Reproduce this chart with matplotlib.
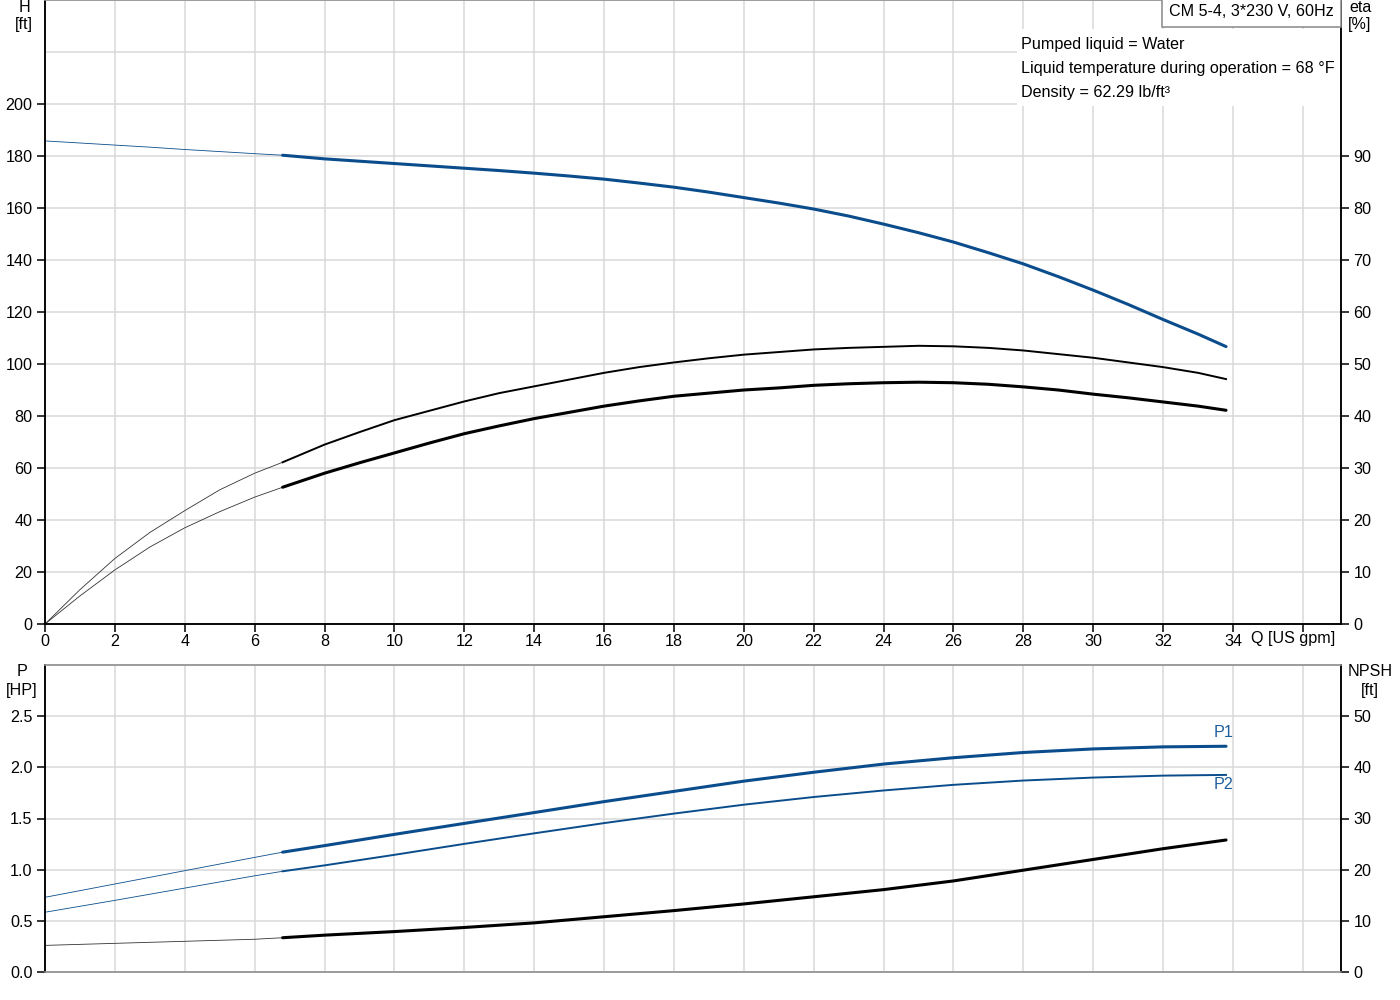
import matplotlib
matplotlib.use("Agg")
import matplotlib.pyplot as plt
from matplotlib.patches import Rectangle
from matplotlib.transforms import blended_transform_factory

plt.rcParams['font.family'] = ['Liberation Sans', 'DejaVu Sans']
plt.rcParams['font.size'] = 11.6

# flow points (US gpm) for the top panel: operating range and thin extension to zero flow
q_top = [6.8, 8, 9, 10, 11, 12, 13, 14, 15, 16, 17, 18, 19, 20, 21, 22, 23, 24, 25, 26,
         27, 28, 29, 30, 31, 32, 33, 33.8]
q_top_ext = [0, 1, 2, 3, 4, 5, 6, 6.8]

head = [180.3, 178.9, 178.0, 177.1, 176.2, 175.3, 174.4, 173.4, 172.3, 171.1, 169.6, 168.0,
        166.1, 164.0, 161.9, 159.6, 156.9, 153.8, 150.5, 146.9, 142.8, 138.5, 133.6, 128.4,
        122.9, 117.1, 111.5, 106.7]
head_ext = [185.8, 185.0, 184.2, 183.4, 182.5, 181.7, 180.9, 180.3]

eta_pump = [31.1, 34.5, 36.9, 39.2, 41.0, 42.8, 44.4, 45.7, 47.0, 48.3, 49.4, 50.3, 51.1, 51.8,
            52.3, 52.8, 53.1, 53.3, 53.5, 53.4, 53.1, 52.6, 51.9, 51.2, 50.3, 49.4, 48.3, 47.1]
eta_pump_ext = [0, 6.6, 12.6, 17.6, 21.8, 25.8, 29.0, 31.1]
eta_tot = [26.3, 29.0, 31.0, 32.9, 34.8, 36.6, 38.1, 39.5, 40.7, 41.9, 42.9, 43.8, 44.4, 45.0,
           45.4, 45.9, 46.2, 46.4, 46.5, 46.4, 46.1, 45.6, 45.0, 44.2, 43.5, 42.7, 41.9, 41.1]
eta_tot_ext = [0, 5.4, 10.4, 14.8, 18.5, 21.6, 24.4, 26.3]

# bottom panel
q_bot = [6.8, 8, 10, 12, 14, 16, 18, 20, 22, 24, 26, 28, 30, 32, 33.8]
q_bot_ext = [0, 2, 4, 6, 6.8]

p1 = [1.171, 1.235, 1.345, 1.452, 1.558, 1.665, 1.765, 1.865, 1.952, 2.032, 2.094, 2.145, 2.18, 2.2, 2.206]
p1_ext = [0.73, 0.86, 0.99, 1.12, 1.171]
p2 = [0.984, 1.042, 1.145, 1.252, 1.355, 1.455, 1.548, 1.635, 1.71, 1.774, 1.829, 1.871, 1.9, 1.919, 1.926]
p2_ext = [0.584, 0.70, 0.82, 0.94, 0.984]
npsh = [6.7, 7.2, 7.9, 8.7, 9.6, 10.8, 12.0, 13.3, 14.7, 16.1, 17.8, 19.9, 22.0, 24.1, 25.8]
npsh_ext = [5.2, 5.6, 6.0, 6.4, 6.7]

x_ticks = list(range(0, 37, 2))
h_ticks = list(range(0, 201, 20))
eta_ticks = list(range(0, 91, 10))
p_ticks = [0.0, 0.5, 1.0, 1.5, 2.0, 2.5]
npsh_ticks = [0, 10, 20, 30, 40, 50]

info_lines = ["Pumped liquid = Water",
              "Liquid temperature during operation = 68 °F",
              "Density = 62.29 lb/ft³"]

blue = '#0b4d8c'
grid_c = '#d9d9d9'
W, H = 1400, 1000

fig = plt.figure(figsize=(14, 10), dpi=100)
ax = fig.add_axes([45 / W, 376 / H, 1296 / W, 624 / H])
ax2 = ax.twinx()
bx = fig.add_axes([45 / W, 28 / H, 1296 / W, 307 / H])
bx2 = bx.twinx()

xmax = 37.09

def style(a, a2, gray_bottom):
    a.set_xlim(0, xmax)
    a.set_axisbelow(True)
    a.grid(True, color=grid_c, lw=1.1)
    for s in ['left', 'right', 'bottom', 'top']:
        a.spines[s].set_linewidth(1.1)
        a2.spines[s].set_linewidth(1.1)
    a.spines['top'].set_color('#999999')
    a2.spines['top'].set_color('#999999')
    if gray_bottom:
        a.spines['bottom'].set_color('#999999')
        a2.spines['bottom'].set_color('#999999')
    a.tick_params(axis='y', length=6, width=1.1, pad=3)
    a2.tick_params(axis='y', length=6, width=1.1, pad=3)

# ---- top panel: head and efficiency
style(ax, ax2, False)
ax.set_ylim(0, 240)
ax2.set_ylim(0, 120)
ax.set_xticks(x_ticks)
ax.set_xticklabels([str(v) for v in x_ticks[:-1]] + [''])
ax.tick_params(axis='x', length=6, width=1.1, pad=1.5)
ax.set_yticks(h_ticks)
ax2.set_yticks(eta_ticks)
ax.axhline(220, color=grid_c, lw=1.1, zorder=0.5)

ax.plot(q_top_ext, head_ext, color=blue, lw=0.6, zorder=3)
ax.plot(q_top, head, color=blue, lw=2.2, zorder=3, solid_capstyle='round')
ax2.plot(q_top_ext, eta_pump_ext, color='#333333', lw=0.6)
ax2.plot(q_top, eta_pump, color='black', lw=1.4)
ax2.plot(q_top_ext, eta_tot_ext, color='#333333', lw=0.6)
ax2.plot(q_top, eta_tot, color='black', lw=2.2, solid_capstyle='round')

trans = blended_transform_factory(ax.transData, ax.transAxes)
ax.annotate("Q [US gpm]", xy=(34.52, 0), xycoords=trans, xytext=(0, -15),
            textcoords='offset pixels', ha='left', va='center')

# white patch behind the liquid info
ax.add_patch(Rectangle(((1017 - 45) / 1296, 1 - 106 / 624), (1341 - 1017) / 1296, 77 / 624,
                       transform=ax.transAxes, facecolor='white', edgecolor='none', zorder=1))
for i, line in enumerate(info_lines):
    fig.text(1021 / W, 1 - (44 + 24 * i) / H, line, ha='left', va='center')
fig.text(1334 / W, 1 - 12 / H, "CM 5-4, 3*230 V, 60Hz", ha='right', va='center',
         bbox=dict(boxstyle='square,pad=0.45', fc='white', ec='#888888', lw=1.1))

fig.text(24 / W, 1 - 7 / H, "H", ha='center', va='center')
fig.text(24 / W, 1 - 25 / H, "[ft]", ha='center', va='center')
fig.text(1360 / W, 1 - 7 / H, "eta", ha='center', va='center')
fig.text(1360 / W, 1 - 25 / H, "[%]", ha='center', va='center')

# ---- bottom panel: power and NPSH
style(bx, bx2, True)
bx.set_ylim(0, 3.0)
bx2.set_ylim(0, 60)
bx.set_xticks(x_ticks)
bx.tick_params(axis='x', length=0, labelbottom=False)
bx.set_yticks(p_ticks)
bx.set_yticklabels(['%.1f' % v for v in p_ticks])
bx2.set_yticks(npsh_ticks)

bx.plot(q_bot_ext, p1_ext, color=blue, lw=0.6, zorder=3)
bx.plot(q_bot, p1, color=blue, lw=2.2, zorder=3, solid_capstyle='round')
bx.plot(q_bot_ext, p2_ext, color=blue, lw=0.6, zorder=3)
bx.plot(q_bot, p2, color=blue, lw=1.4, zorder=3)
bx2.plot(q_bot_ext, npsh_ext, color='#333333', lw=0.6)
bx2.plot(q_bot, npsh, color='black', lw=2.2, solid_capstyle='round')

bx.annotate("P1", xy=(q_bot[-1], p1[-1]), xytext=(-2, 14), textcoords='offset pixels',
            ha='center', va='center', color='#1f5f9f')
bx.annotate("P2", xy=(q_bot[-1], p2[-1]), xytext=(-2, -10), textcoords='offset pixels',
            ha='center', va='center', color='#1f5f9f')

fig.text(22 / W, 1 - 672 / H, "P", ha='center', va='center')
fig.text(22 / W, 1 - 690 / H, "[HP]", ha='center', va='center')
fig.text(1370 / W, 1 - 672 / H, "NPSH", ha='center', va='center')
fig.text(1370 / W, 1 - 690 / H, "[ft]", ha='center', va='center')

fig.savefig("out.png", dpi=100)
